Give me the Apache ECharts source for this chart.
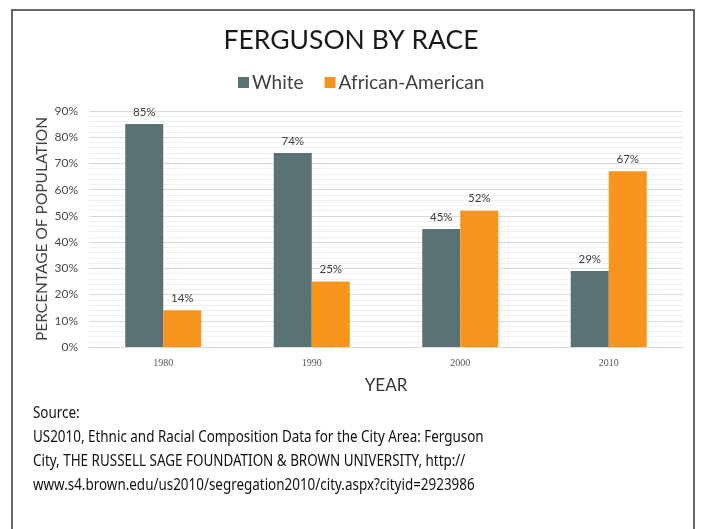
<!DOCTYPE html>
<html>
<head>
<meta charset="utf-8">
<script src="https://cdn.jsdelivr.net/npm/echarts@6/dist/echarts.min.js"></script>
<style>
  html, body { margin: 0; padding: 0; background: #fff; }
  #chart { width: 702px; height: 529px; }
</style>
</head>
<body>
<div id="chart"></div>
<script>
// data
var years = ['1980', '1990', '2000', '2010'];
var white = [85, 74, 45, 29];
var africanAmerican = [14, 25, 52, 67];
var sourceLines = [
    'Source:',
    'US2010, Ethnic and Racial Composition Data for the City Area: Ferguson',
    'City, THE RUSSELL SAGE FOUNDATION & BROWN UNIVERSITY, http://',
    'www.s4.brown.edu/us2010/segregation2010/city.aspx?cityid=2923986'
];

var sansFont = 'Lato, "Noto Sans", sans-serif';

var myChart = echarts.init(document.getElementById('chart'));

var graphics = [{
    type: 'rect',
    shape: {x: 12, y: 10, width: 682, height: 540},
    style: {fill: 'none', stroke: '#666', lineWidth: 2},
    silent: true
}];
// source note, narrow font look
sourceLines.forEach(function (line, i) {
    graphics.push({
        type: 'text',
        x: 33,
        y: 413 + i * 24.2,
        scaleX: 0.79,
        style: {
            text: line,
            fill: '#111',
            verticalAlign: 'middle',
            font: '17px "Noto Sans", sans-serif'
        }
    });
});

myChart.setOption({
    backgroundColor: '#fff',
    animation: false,
    color: ['#5a7274', '#f7941d'],
    title: {
        text: 'FERGUSON BY RACE',
        left: 'center',
        top: 22,
        textStyle: {fontFamily: sansFont, fontWeight: 'normal', fontSize: 26.5, color: '#1a1a1a'}
    },
    legend: {
        top: 68,
        left: 233,
        itemWidth: 11,
        itemHeight: 11,
        itemGap: 21,
        icon: 'rect',
        textStyle: {fontFamily: sansFont, fontSize: 19, color: '#404040', padding: [0, 0, 0, -2]},
        data: ['White', 'African-American']
    },
    grid: {
        left: 89,
        right: 19,
        top: 111,
        bottom: 182
    },
    xAxis: {
        type: 'category',
        data: years,
        name: 'YEAR',
        nameLocation: 'middle',
        nameGap: 30,
        nameTextStyle: {fontFamily: sansFont, fontSize: 17, color: '#333'},
        axisTick: {show: false},
        axisLine: {lineStyle: {color: '#d9d9d9'}},
        axisLabel: {fontFamily: '"Liberation Serif", serif', fontSize: 10, color: '#555', margin: 11}
    },
    yAxis: {
        type: 'value',
        min: 0,
        max: 90,
        interval: 10,
        name: 'PERCENTAGE OF POPULATION',
        nameLocation: 'middle',
        nameGap: 39,
        nameMoveOverlap: false,
        nameTextStyle: {fontFamily: sansFont, fontSize: 15.5, color: '#444'},
        axisLine: {show: false},
        axisTick: {show: false},
        axisLabel: {formatter: '{value}%', fontFamily: sansFont, fontSize: 12, color: '#4a4a4a', margin: 11},
        splitLine: {lineStyle: {color: '#d9d9d9'}},
        minorTick: {show: false, splitNumber: 5},
        minorSplitLine: {show: true, lineStyle: {color: '#f0f0f0'}}
    },
    series: [{
        name: 'White',
        type: 'bar',
        barWidth: 38,
        barGap: '0%',
        data: white,
        label: {show: true, position: 'top', formatter: '{c}%', fontFamily: sansFont, fontSize: 11.5, color: '#404040', distance: 6}
    }, {
        name: 'African-American',
        type: 'bar',
        barWidth: 38,
        data: africanAmerican,
        label: {show: true, position: 'top', formatter: '{c}%', fontFamily: sansFont, fontSize: 11.5, color: '#404040', distance: 6}
    }],
    graphic: graphics
});
</script>
</body>
</html>
